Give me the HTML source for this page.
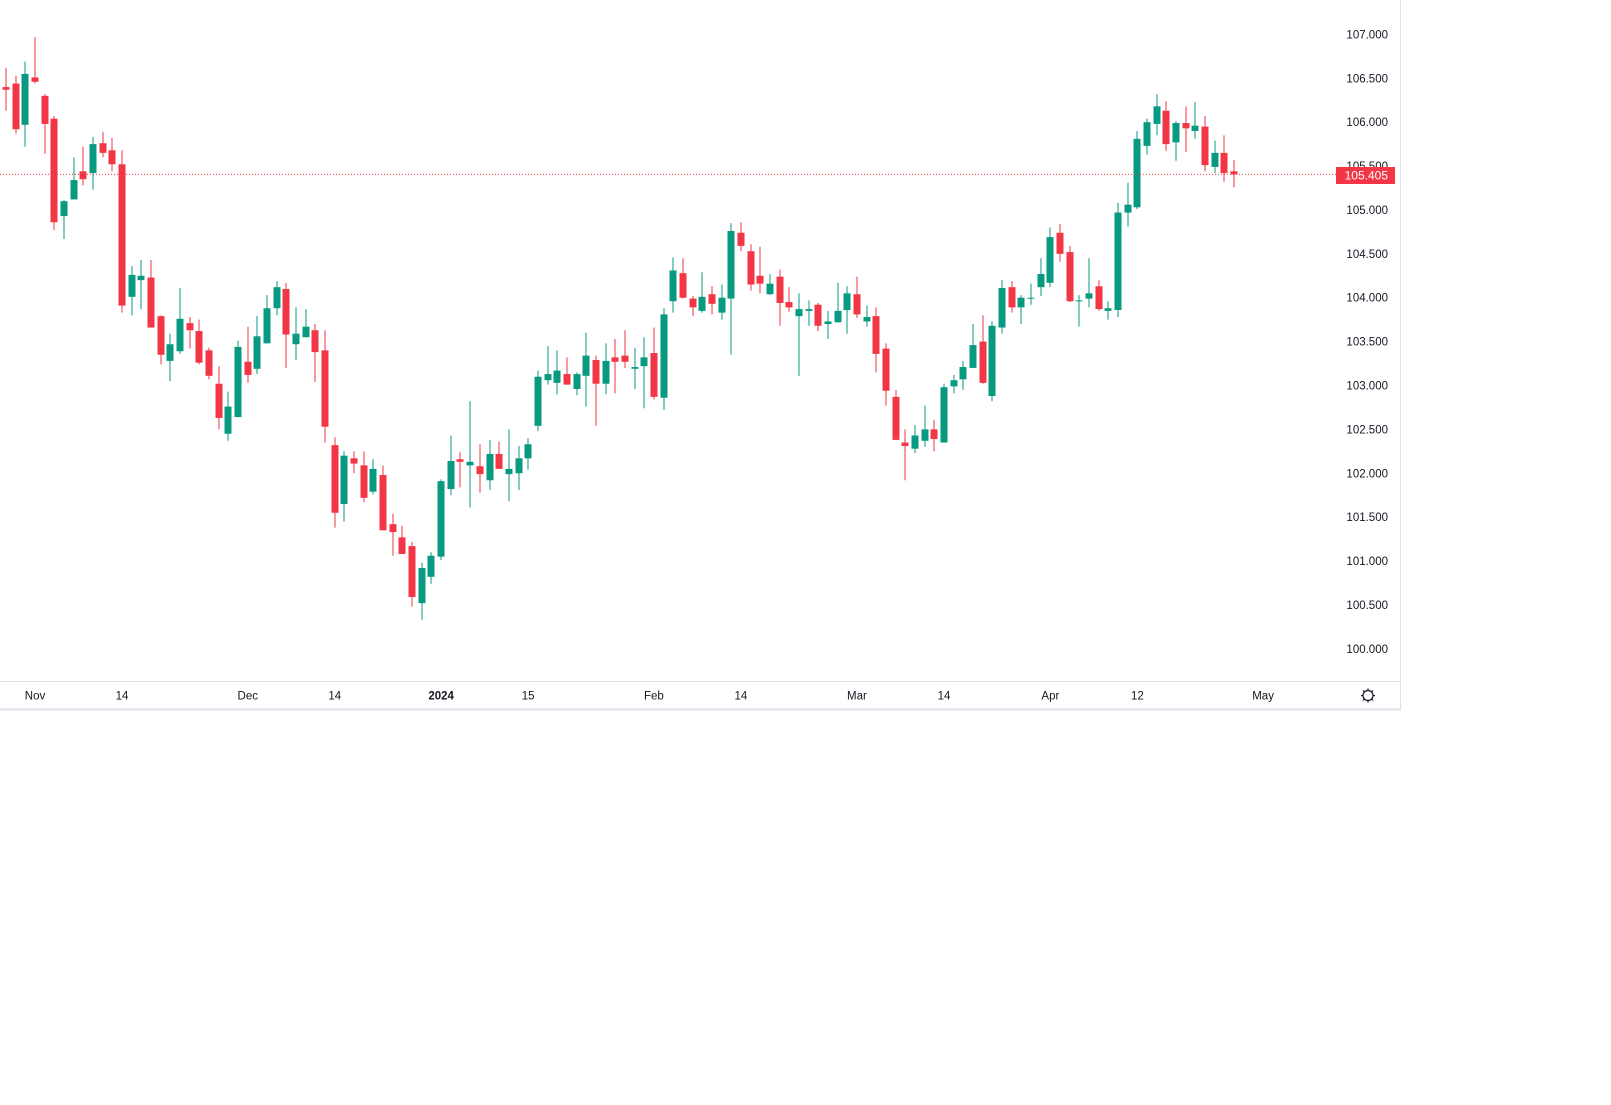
<!DOCTYPE html>
<html>
<head>
<meta charset="utf-8">
<style>
  html,body{margin:0;padding:0;background:#fff;}
  body{width:1611px;height:1100px;overflow:hidden;font-family:"Liberation Sans",sans-serif;}
  svg text{font-family:"Liberation Sans",sans-serif;}
</style>
</head>
<body>
<svg id="chart" width="1611" height="1100" viewBox="0 0 1611 1100" xmlns="http://www.w3.org/2000/svg">
  <rect x="0" y="0" width="1611" height="1100" fill="#ffffff"/>
  <g id="candles"></g>
  <line x1="0" y1="174.4" x2="1336" y2="174.4" stroke="#f23645" stroke-width="1" stroke-dasharray="1,2"/>
  <line x1="1400.5" y1="0" x2="1400.5" y2="710" stroke="#e0e3eb" stroke-width="1"/>
  <line x1="0" y1="681.5" x2="1400" y2="681.5" stroke="#e0e3eb" stroke-width="1"/>
  <line x1="0" y1="709.5" x2="1401" y2="709.5" stroke="#e0e3eb" stroke-width="2"/>
  <g id="yaxis"></g>
  <g id="xaxis"></g>
  <g>
    <rect x="1336" y="167" width="59" height="17" fill="#f23645"/>
    <text x="1388" y="179.5" fill="#ffffff" font-size="12" text-anchor="end">105.405</text>
  </g>
  <g transform="translate(1368,695.5)">
    <circle cx="0" cy="0" r="5" fill="none" stroke="#131722" stroke-width="1.2"/>
    <line x1="0" y1="-7" x2="0" y2="-5" stroke="#131722" stroke-width="1.2"/>
    <line x1="0" y1="5" x2="0" y2="7" stroke="#131722" stroke-width="1.2"/>
    <line x1="-7" y1="0" x2="-5" y2="0" stroke="#131722" stroke-width="1.2"/>
    <line x1="5" y1="0" x2="7" y2="0" stroke="#131722" stroke-width="1.2"/>
    <line x1="-5" y1="-5" x2="-3.5" y2="-3.5" stroke="#131722" stroke-width="1.2"/>
    <line x1="5" y1="5" x2="3.5" y2="3.5" stroke="#131722" stroke-width="1.2"/>
    <line x1="-5" y1="5" x2="-3.5" y2="3.5" stroke="#131722" stroke-width="1.2"/>
    <line x1="5" y1="-5" x2="3.5" y2="-3.5" stroke="#131722" stroke-width="1.2"/>
  </g>
</svg>
<script>
const opens = [106.40,106.44,105.97,106.51,106.30,106.04,104.93,105.12,105.44,105.42,105.76,105.68,105.52,104.01,104.20,104.23,103.79,103.28,103.39,103.71,103.62,103.40,103.02,102.45,102.64,103.27,103.19,103.48,103.88,104.10,103.47,103.55,103.63,103.40,102.32,101.65,102.17,102.09,101.79,101.98,101.42,101.27,101.17,100.52,100.82,101.05,101.82,102.16,102.09,102.08,101.92,102.22,101.99,102.00,102.17,102.54,103.06,103.03,103.13,102.96,103.11,103.29,103.02,103.32,103.34,103.19,103.22,103.37,102.86,103.96,104.28,103.99,103.85,104.04,103.83,103.99,104.74,104.53,104.25,104.04,104.24,103.95,103.79,103.85,103.92,103.70,103.72,103.86,104.04,103.73,103.79,103.42,102.87,102.35,102.28,102.37,102.50,102.35,102.99,103.07,103.20,103.50,102.88,103.66,104.12,103.89,103.99,104.12,104.17,104.74,104.52,103.96,103.99,104.13,103.85,103.86,104.97,105.03,105.73,105.98,106.13,105.77,105.99,105.90,105.95,105.49,105.65,105.44];
const highs = [106.62,106.53,106.69,106.97,106.32,106.07,105.11,105.60,105.72,105.83,105.89,105.82,105.68,104.36,104.43,104.43,103.80,103.59,104.11,103.78,103.75,103.43,103.22,102.93,103.51,103.67,103.79,104.03,104.19,104.17,103.89,103.87,103.70,103.63,102.41,102.25,102.25,102.25,102.16,102.09,101.54,101.40,101.22,100.98,101.10,101.93,102.43,102.24,102.82,102.33,102.38,102.36,102.50,102.31,102.40,103.17,103.45,103.40,103.32,103.15,103.60,103.34,103.48,103.53,103.63,103.43,103.55,103.66,103.88,104.46,104.45,104.02,104.29,104.13,104.15,104.85,104.86,104.61,104.58,104.27,104.32,104.12,104.05,103.97,103.94,103.85,104.17,104.13,104.24,103.91,103.89,103.48,102.95,102.50,102.55,102.77,102.61,103.02,103.12,103.28,103.70,103.80,103.73,104.20,104.19,104.03,104.16,104.45,104.80,104.84,104.59,104.03,104.45,104.20,103.96,105.08,105.31,105.90,106.04,106.32,106.24,106.01,106.18,106.23,106.07,105.79,105.85,105.57];
const lows = [106.13,105.87,105.72,106.44,105.64,104.77,104.67,105.12,105.28,105.23,105.60,105.44,103.83,103.80,103.87,103.66,103.24,103.05,103.36,103.42,103.24,103.07,102.50,102.37,102.64,103.03,103.13,103.48,103.80,103.20,103.29,103.55,103.04,102.35,101.38,101.45,102.00,101.67,101.76,101.35,101.06,101.08,100.48,100.33,100.74,101.01,101.75,101.84,101.61,101.78,101.81,102.05,101.68,101.81,102.04,102.48,103.01,102.90,103.01,102.89,102.76,102.54,102.90,102.91,103.20,102.96,102.74,102.84,102.72,103.83,103.99,103.79,103.83,103.81,103.75,103.35,104.53,104.08,104.05,104.03,103.68,103.84,103.11,103.68,103.62,103.53,103.72,103.59,103.77,103.67,103.15,102.77,102.38,101.92,102.23,102.30,102.25,102.35,102.91,102.95,103.20,103.02,102.82,103.59,103.83,103.70,103.92,104.02,104.12,104.41,103.95,103.67,103.89,103.85,103.75,103.78,104.81,105.01,105.63,105.85,105.67,105.56,105.66,105.81,105.44,105.42,105.32,105.26];
const closes = [106.37,105.92,106.55,106.46,105.98,104.86,105.10,105.34,105.35,105.75,105.65,105.52,103.91,104.26,104.25,103.66,103.35,103.47,103.76,103.63,103.26,103.11,102.63,102.76,103.44,103.12,103.56,103.88,104.12,103.58,103.59,103.67,103.38,102.53,101.55,102.20,102.11,101.72,102.05,101.35,101.33,101.08,100.59,100.92,101.06,101.91,102.14,102.13,102.13,101.99,102.22,102.05,102.05,102.17,102.33,103.10,103.13,103.17,103.01,103.13,103.34,103.02,103.28,103.27,103.27,103.21,103.32,102.87,103.81,104.31,104.00,103.89,104.01,103.93,104.00,104.76,104.59,104.15,104.16,104.16,103.94,103.89,103.87,103.87,103.68,103.73,103.85,104.05,103.81,103.78,103.36,102.94,102.38,102.31,102.43,102.50,102.39,102.98,103.06,103.21,103.46,103.03,103.68,104.11,103.89,104.00,104.00,104.27,104.69,104.50,103.96,103.97,104.05,103.87,103.88,104.97,105.06,105.81,106.00,106.18,105.75,105.99,105.93,105.96,105.51,105.65,105.42,105.405];
const priceTicks = [107.0,106.5,106.0,105.5,105.0,104.5,104.0,103.5,103.0,102.5,102.0,101.5,101.0,100.5,100.0];
const timeLabels = ["Nov","14","Dec","14","2024","15","Feb","14","Mar","14","Apr","12","May"];
const timeLabelIndex = [3,12,25,34,45,54,67,76,88,97,108,117,130];

const NS = "http://www.w3.org/2000/svg";
function yScale(p){ return 34.4 + (107 - p) * 87.77; }
function xScale(i){ return 6 + i * 9.67; }

const cg = document.getElementById('candles');
for (let i = 0; i < opens.length; i++) {
  const up = closes[i] >= opens[i];
  const col = up ? '#089981' : '#f23645';
  const x = Math.round(xScale(i));
  const g = document.createElementNS(NS,'g');
  
  
  const wick = document.createElementNS(NS,'rect');
  
  
  const yh = yScale(highs[i]), yl = yScale(lows[i]);
  wick.setAttribute('x', x - 0.5);
  wick.setAttribute('y', yh);
  wick.setAttribute('width', 1);
  wick.setAttribute('height', Math.max(1, yl - yh));
  wick.setAttribute('fill', col);
  const body = document.createElementNS(NS,'rect');
  
  
  const yo = yScale(opens[i]), yc = yScale(closes[i]);
  body.setAttribute('x', x - 3.5);
  body.setAttribute('y', Math.min(yo, yc));
  body.setAttribute('width', 7);
  body.setAttribute('height', Math.max(1, Math.abs(yo - yc)));
  body.setAttribute('fill', col);
  g.appendChild(wick);
  g.appendChild(body);
  cg.appendChild(g);
}

const ya = document.getElementById('yaxis');
priceTicks.forEach(p => {
  const t = document.createElementNS(NS,'text');
  
  
  t.setAttribute('x', 1388);
  t.setAttribute('y', yScale(p) + 4);
  t.setAttribute('text-anchor', 'end');
  t.setAttribute('font-size', '11.5');
  t.setAttribute('fill', '#131722');
  t.textContent = p.toFixed(3);
  ya.appendChild(t);
});

const xa = document.getElementById('xaxis');
timeLabels.forEach((lab, k) => {
  const t = document.createElementNS(NS,'text');
  
  
  t.setAttribute('x', xScale(timeLabelIndex[k]));
  t.setAttribute('y', 699.5);
  t.setAttribute('text-anchor', 'middle');
  t.setAttribute('font-size', '11.5');
  t.setAttribute('fill', '#131722');
  if (lab === '2024') t.setAttribute('font-weight', 'bold');
  t.textContent = lab;
  xa.appendChild(t);
});
</script>
</body>
</html>
